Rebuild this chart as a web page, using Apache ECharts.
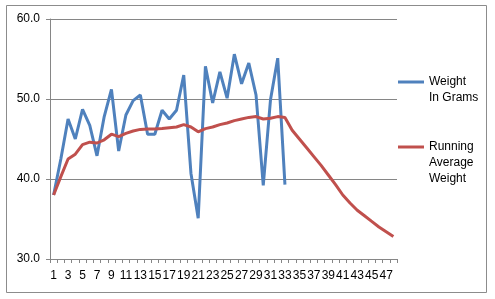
<!DOCTYPE html>
<html>
<head>
<meta charset="utf-8">
<script src="https://cdn.jsdelivr.net/npm/echarts@6/dist/echarts.min.js"></script>
<style>
html,body{margin:0;padding:0;background:#fff;}
#c{width:495px;height:299px;}
</style>
</head>
<body>
<div id="c"></div>
<script>
var categories = [];
for (var k = 1; k <= 48; k++) categories.push(String(k));

var weightInGrams = [38.0, 42.5, 47.5, 45.0, 48.7, 46.7, 42.9, 47.8, 51.2, 43.5,
  48.0, 49.8, 50.5, 45.6, 45.6, 48.6, 47.5, 48.6, 53.0, 40.7,
  35.1, 54.1, 49.5, 53.4, 50.1, 55.6, 51.9, 54.5, 50.5, 39.2,
  49.9, 55.1, 39.3];

var runningAverage = [38.0, 40.3, 42.5, 43.1, 44.3, 44.6, 44.5, 44.9, 45.6, 45.3,
  45.7, 46.0, 46.2, 46.25, 46.25, 46.3, 46.4, 46.5, 46.8, 46.5,
  45.9, 46.3, 46.5, 46.8, 47.0, 47.3, 47.5, 47.7, 47.8, 47.5,
  47.6, 47.8, 47.7, 46.1, 45.0, 43.9, 42.8, 41.7, 40.5, 39.3,
  38.0, 37.0, 36.1, 35.4, 34.7, 34.0, 33.4, 32.8];

var yTicks = {min: 30, max: 60, interval: 10};

var FONT = 'Liberation Sans';
var chart = echarts.init(document.getElementById('c'), null, {renderer: 'canvas'});
var legendCommon = {
  orient: 'vertical', left: 398, padding: 0,
  itemWidth: 26, itemHeight: 10, itemGap: 0,
  icon: 'rect',
  textStyle: {fontFamily: FONT, fontSize: 12, color: '#000', lineHeight: 16}
};
chart.setOption({
  animation: false,
  backgroundColor: '#ffffff',
  textStyle: {fontFamily: FONT},
  graphic: [{
    type: 'rect', silent: true, z: -1,
    shape: {x: 6.5, y: 5.5, width: 480, height: 287},
    style: {fill: 'none', stroke: '#8c8c8c', lineWidth: 1}
  }],
  grid: {left: 50, right: 98, top: 19, bottom: 40, containLabel: false},
  legend: [Object.assign({}, legendCommon, {
    top: 58,
    data: [{name: 'Weight In Grams', icon: 'path://M0,4.5H26V7.5H0Z'}],
    formatter: function () { return '\nWeight\nIn Grams'; }
  }), Object.assign({}, legendCommon, {
    top: 107,
    data: [{name: 'Running Average Weight', icon: 'path://M0,4.5H26V7.5H0Z'}],
    formatter: function () { return '\n\nRunning\nAverage\nWeight'; }
  })],
  xAxis: {
    type: 'category',
    data: categories,
    boundaryGap: true,
    axisLine: {lineStyle: {color: '#868686', width: 1}},
    axisTick: {show: true, interval: 0, length: 4, lineStyle: {color: '#868686'}},
    axisLabel: {interval: 1, margin: 11, fontSize: 12, color: '#000', fontFamily: FONT},
    splitLine: {show: false}
  },
  yAxis: {
    type: 'value',
    min: yTicks.min, max: yTicks.max, interval: yTicks.interval,
    axisLine: {show: true, lineStyle: {color: '#868686', width: 1}},
    axisTick: {show: true, length: 4, lineStyle: {color: '#868686'}},
    axisLabel: {margin: 10, fontSize: 12, color: '#000', fontFamily: FONT,
      formatter: function (v) { return v.toFixed(1); }},
    splitLine: {show: true, lineStyle: {color: '#868686', width: 1}}
  },
  series: [{
    name: 'Weight In Grams',
    type: 'line',
    data: weightInGrams,
    symbol: 'none',
    lineStyle: {color: '#4F81BD', width: 3},
    itemStyle: {color: '#4F81BD'}
  }, {
    name: 'Running Average Weight',
    type: 'line',
    data: runningAverage,
    symbol: 'none',
    lineStyle: {color: '#C0504D', width: 3},
    itemStyle: {color: '#C0504D'}
  }]
});
</script>
</body>
</html>
